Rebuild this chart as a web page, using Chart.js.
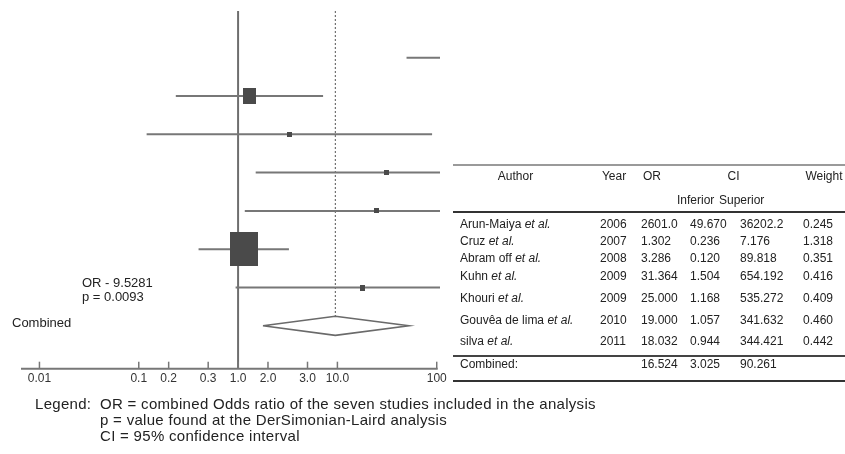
<!DOCTYPE html>
<html><head><meta charset="utf-8">
<script src="https://cdn.jsdelivr.net/npm/chart.js@4.4.1/dist/chart.umd.min.js"></script>
<style>
html,body{margin:0;padding:0;background:#fff;}
#wrap{position:relative;width:845px;height:454px;overflow:hidden;font-family:"Liberation Sans",Arial,Helvetica,sans-serif;color:#222;}
#chartBox{position:absolute;left:0;top:0;width:845px;height:454px;}
.t{position:absolute;white-space:nowrap;line-height:16px;height:16px;}
.rule{position:absolute;left:453px;width:392px;}
</style></head><body>
<div id="wrap"><div id="chartBox"><canvas id="c"></canvas></div></div>
<script>
// ---- forest plot rows, as drawn ----
const plotStudies = ["Arun-Maiya et al.","Cruz et al.","Abram off et al.","Kuhn et al.","Khouri et al.","Gouvêa de lima et al.","silva et al."];
const plotOR     = [2601.0, 1.302, 3.286, 31.364, 25.0, 1.15, 18.032];
const plotLower  = [49.67, 0.236, 0.12, 1.504, 1.168, 0.40, 0.944];
const plotUpper  = [36202.2, 7.176, 89.818, 654.192, 535.272, 3.25, 344.421];
const plotWeight = [0.245, 1.318, 0.351, 0.416, 0.409, 2.75, 0.442];
const pooledOR = 9.5281;
const pooledLower = 1.78;
const pooledUpper = 52.4;
const pooledP = "0.0093";
const tickValues = [0.01, 0.1, 0.2, 0.5, 1, 2, 5, 10, 100];
const tickLabels = ["0.01","0.1","0.2","0.3","1.0","2.0","3.0","10.0","100"];

// ---- table ----
const tblAuthor = ["Arun-Maiya","Cruz","Abram off","Kuhn","Khouri","Gouvêa de lima","silva"];
const tblYear   = ["2006","2007","2008","2009","2009","2010","2011"];
const tblOR     = ["2601.0","1.302","3.286","31.364","25.000","19.000","18.032"];
const tblInf    = ["49.670","0.236","0.120","1.504","1.168","1.057","0.944"];
const tblSup    = ["36202.2","7.176","89.818","654.192","535.272","341.632","344.421"];
const tblWeight = ["0.245","1.318","0.351","0.416","0.409","0.460","0.442"];
const tblCombined = ["16.524","3.025","90.261"];

const legendLines = [
  "OR = combined Odds ratio of the seven studies included in the analysis",
  "p = value found at the DerSimonian-Laird analysis",
  "CI = 95% confidence interval"
];

// ---------- layout (not data) ----------
const Y_MIN = -0.22, Y_MAX = 9.12;
const X_MIN = 0.00652, X_MAX = 107.9;
const COMBINED_ROW = plotOR.length + 1;
const DIAMOND_HALF = 0.25;
const GRAY = '#777777';

const rows = plotOR.map((_, i) => i + 1);

function boxImage(w) {
  const c = document.createElement('canvas');
  const bw = Math.max(5, Math.round(10 * w));
  const bh = Math.max(5, Math.round(12.5 * w));
  c.width = bw; c.height = bh;
  const g = c.getContext('2d');
  g.fillStyle = '#4a4a4a';
  g.fillRect(0, 0, bw, bh);
  return c;
}
const boxImages = plotWeight.map(boxImage);

const ciSets = rows.map((r, i) => ({
  type: 'line',
  data: [{x: plotLower[i], y: r}, {x: plotUpper[i], y: r}],
  borderColor: GRAY, borderWidth: 2, pointRadius: 0, tension: 0, order: 3
}));

const datasets = [
  {
    type: 'line', label: 'ref',
    data: [{x: 1, y: Y_MIN}, {x: 1, y: Y_MAX}],
    borderColor: '#6e6e6e', borderWidth: 2, pointRadius: 0, order: 5
  },
  {
    type: 'line', label: 'pooled',
    data: [{x: pooledOR, y: Y_MIN}, {x: pooledOR, y: COMBINED_ROW - DIAMOND_HALF}],
    borderColor: '#555', borderWidth: 1, borderDash: [2, 2], pointRadius: 0, order: 4
  },
  ...ciSets,
  {
    type: 'scatter', label: 'OR',
    data: rows.map((r, i) => ({x: plotOR[i], y: r})),
    pointStyle: (ctx) => boxImages[ctx.dataIndex],
    pointRadius: 3, order: 1
  },
  {
    type: 'line', label: 'Combined',
    data: [
      {x: pooledLower, y: COMBINED_ROW},
      {x: pooledOR, y: COMBINED_ROW - DIAMOND_HALF},
      {x: pooledUpper, y: COMBINED_ROW},
      {x: pooledOR, y: COMBINED_ROW + DIAMOND_HALF},
      {x: pooledLower, y: COMBINED_ROW}
    ],
    borderColor: '#6a6a6a', borderWidth: 1.6, pointRadius: 0, tension: 0,
    backgroundColor: '#fff', fill: false, order: 2
  }
];

const axisPlugin = {
  id: 'axisLine',
  afterDraw(chart) {
    const {ctx, chartArea} = chart;
    const xs = chart.scales.x;
    const y = chartArea.bottom;
    ctx.save();
    ctx.strokeStyle = GRAY;
    ctx.lineWidth = 2;
    ctx.beginPath();
    ctx.moveTo(chartArea.left, y);
    ctx.lineTo(xs.getPixelForValue(tickValues[tickValues.length - 1]) + 1, y);
    ctx.stroke();
    ctx.lineWidth = 1.5;
    xs.ticks.forEach((t, i) => {
      const px = xs.getPixelForTick(i);
      ctx.beginPath();
      ctx.moveTo(px, y);
      ctx.lineTo(px, y - 7);
      ctx.stroke();
    });
    ctx.restore();
  }
};

Chart.defaults.font.family = '"Liberation Sans", Arial, sans-serif';
new Chart(document.getElementById('c'), {
  type: 'scatter',
  data: {datasets},
  options: {
    responsive: true, maintainAspectRatio: false, animation: false,
    layout: {padding: {left: 21, top: 11, right: 405, bottom: 65.3}},
    plugins: {legend: {display: false}, tooltip: {enabled: false}},
    scales: {
      x: {
        type: 'logarithmic', min: X_MIN, max: X_MAX,
        afterBuildTicks: (s) => { s.ticks = tickValues.map(v => ({value: v})); },
        afterFit: (s) => { s.height = 20; },
        grid: {display: false, drawTicks: false},
        border: {display: false},
        ticks: {
          autoSkip: false, maxRotation: 0, padding: 3, color: '#333',
          font: {size: 12},
          callback: (v, i) => tickLabels[i]
        }
      },
      y: {
        type: 'linear', reverse: true, min: Y_MIN, max: Y_MAX, display: false
      }
    }
  },
  plugins: [axisPlugin]
});

// ---------- HTML text: annotations, table, legend ----------
const wrap = document.getElementById('wrap');
function txt(html, left, yc, size, extra) {
  const d = document.createElement('div');
  d.className = 't';
  d.innerHTML = html;
  d.style.left = left + 'px';
  d.style.top = (yc - 8) + 'px';
  d.style.fontSize = size + 'px';
  if (extra) Object.assign(d.style, extra);
  wrap.appendChild(d);
  return d;
}
function ctxt(html, cx, yc, size) {
  return txt(html, cx - 60, yc, size, {width: '120px', textAlign: 'center'});
}
function rule(y, h, color) {
  const d = document.createElement('div');
  d.className = 'rule';
  d.style.top = (y - h / 2) + 'px';
  d.style.height = h + 'px';
  d.style.background = color;
  wrap.appendChild(d);
}

txt('OR - ' + pooledOR.toFixed(4), 82, 282.5, 13);
txt('p = ' + pooledP, 82, 297, 13);
txt('Combined', 12, 322.7, 13);

rule(165, 2, '#9a9a9a');
rule(212, 2, '#333');
rule(356, 1.5, '#444');
rule(381, 2, '#333');

const F = 12;
ctxt('Author', 515.5, 175.5, F);
ctxt('Year', 614, 175.5, F);
ctxt('OR', 652, 175.5, F);
ctxt('CI', 733.5, 175.5, F);
ctxt('Weight', 824, 175.5, F);
txt('Inferior', 677, 200, F);
txt('Superior', 719, 200, F);

const rowY = [224, 241, 258, 276, 298, 320, 341];
const colX = [460, 600, 641, 690, 740, 803];
tblAuthor.forEach((a, i) => {
  const y = rowY[i];
  txt(a + ' <i>et al.</i>', colX[0], y, F);
  txt(tblYear[i], colX[1], y, F);
  txt(tblOR[i], colX[2], y, F);
  txt(tblInf[i], colX[3], y, F);
  txt(tblSup[i], colX[4], y, F);
  txt(tblWeight[i], colX[5], y, F);
});
txt('Combined:', colX[0], 363.5, F);
txt(tblCombined[0], colX[2], 363.5, F);
txt(tblCombined[1], colX[3], 363.5, F);
txt(tblCombined[2], colX[4], 363.5, F);

const LEG = {letterSpacing: '0.3px'};
txt('Legend:', 35, 404.3, 15, LEG);
legendLines.forEach((l, i) => txt(l, 100, 404.3 + 16 * i, 15, LEG));
</script>
</body></html>
